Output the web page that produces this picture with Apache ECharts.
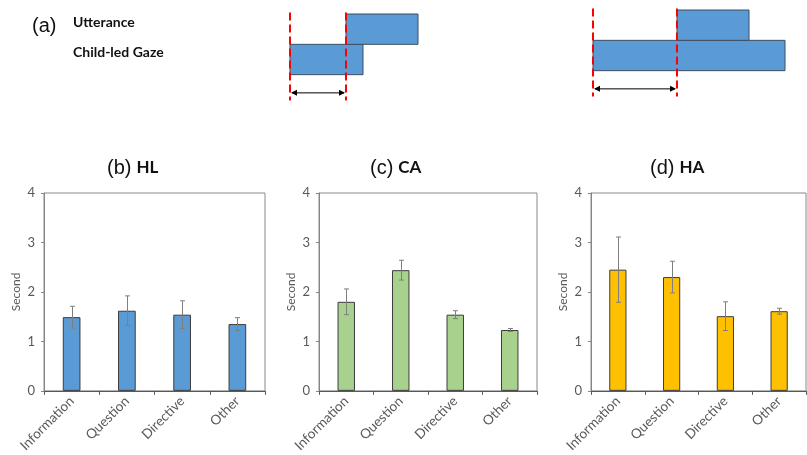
<!DOCTYPE html>
<html><head><meta charset="utf-8">
<script src="https://cdn.jsdelivr.net/npm/echarts@6/dist/echarts.min.js"></script>
<style>html,body{margin:0;padding:0;background:#fff}#c{width:807px;height:455px}</style>
</head><body><div id="c"></div>
<script>
// ---- data ----
const categories = ['Information', 'Question', 'Directive', 'Other'];
const yTickValues = [0, 1, 2, 3, 4];
const hlMean = [1.49, 1.62, 1.54, 1.35];
const hlErr  = [0.22, 0.30, 0.28, 0.13];
const caMean = [1.80, 2.44, 1.54, 1.23];
const caErr  = [0.26, 0.20, 0.08, 0.03];
const haMean = [2.45, 2.30, 1.51, 1.61];
const haErr  = [0.66, 0.32, 0.29, 0.06];
const panelLetters = ['(b)', '(c)', '(d)'];
const groupNames = ['HL', 'CA', 'HA'];
const rowLabels = ['Utterance', 'Child-led Gaze'];
// schematic (a): [start, end] intervals in schematic time units
const leftUtterance  = [5.6, 12.8];
const leftGaze       = [0, 7.3];
const rightUtterance = [8.4, 15.6];
const rightGaze      = [0, 19.2];

// ---- styling ----
const FONT = 'Lato';
const barColors = ['#5B9BD5', '#A9D18E', '#FFC000'];
const means = [hlMean, caMean, haMean];
const errs = [hlErr, caErr, haErr];
const grids = [
  {left: 44, top: 193, width: 221, height: 198},
  {left: 319, top: 193, width: 218, height: 198},
  {left: 591, top: 193, width: 215, height: 198},
  {left: 290, top: 14, width: 128, height: 91},
  {left: 593, top: 10, width: 192, height: 91}
];
const titleLefts = [102, 365, 645];

const xAxes = [], yAxes = [], series = [], titles = [];
for (let g = 0; g < 3; g++) {
  xAxes.push({
    type: 'category', gridIndex: g, data: categories,
    axisLine: {lineStyle: {color: '#595959', width: 1}},
    axisTick: {show: true, length: 4, lineStyle: {color: '#595959'}},
    axisLabel: {rotate: 45, color: '#595959', fontSize: 13.5, fontFamily: FONT, margin: 8}
  });
  yAxes.push({
    type: 'value', gridIndex: g, min: yTickValues[0], max: yTickValues[yTickValues.length - 1], interval: 1,
    axisLine: {show: true, lineStyle: {color: '#868686'}},
    axisTick: {show: true, length: 3, lineStyle: {color: '#868686'}},
    splitLine: {show: false},
    axisLabel: {color: '#595959', fontSize: 13, fontFamily: FONT, margin: 9},
    name: 'Second', nameLocation: 'middle', nameGap: 22,
    nameTextStyle: {color: '#595959', fontSize: 12, fontFamily: FONT}
  });
  series.push({
    type: 'bar', xAxisIndex: g, yAxisIndex: g, data: means[g], barWidth: '32%',
    itemStyle: {color: barColors[g], borderColor: '#3c3c3c', borderWidth: 1},
    silent: true, animation: false
  });
  series.push({
    type: 'custom', xAxisIndex: g, yAxisIndex: g, z: 5, animation: false, silent: true,
    data: categories.map((c, i) => [i, means[g][i], errs[g][i]]),
    renderItem: function (params, api) {
      const x = api.value(0), m = api.value(1), e = api.value(2);
      const t = api.coord([x, m + e]), b = api.coord([x, m - e]);
      const cx = Math.round(t[0]) + 0.5, w = 2.5;
      const st = {stroke: '#7f7f7f', lineWidth: 1};
      return {type: 'group', children: [
        {type: 'line', shape: {x1: cx, y1: t[1], x2: cx, y2: b[1]}, style: st},
        {type: 'line', shape: {x1: cx - w, y1: t[1], x2: cx + w, y2: t[1]}, style: st},
        {type: 'line', shape: {x1: cx - w, y1: b[1], x2: cx + w, y2: b[1]}, style: st}
      ]};
    }
  });
  titles.push({
    left: titleLefts[g], top: 153,
    text: '{p|' + panelLetters[g] + '} {g|' + groupNames[g] + '}',
    textStyle: {fontWeight: 'normal', rich: {
      p: {fontFamily: 'Liberation Sans', fontSize: 20, fontWeight: 'normal', color: '#111'},
      g: {fontFamily: FONT, fontWeight: 'bold', fontSize: 17, color: '#111'}
    }}
  });
}

// schematic grids
const schem = [
  {u: leftUtterance, gz: leftGaze},
  {u: rightUtterance, gz: rightGaze}
];
schem.forEach((s, k) => {
  const gi = 3 + k;
  xAxes.push({type: 'value', gridIndex: gi, min: 0, max: Math.max(s.u[1], s.gz[1]), show: false});
  yAxes.push({type: 'value', gridIndex: gi, min: 0, max: 3, inverse: true, show: false});
  series.push({
    type: 'custom', xAxisIndex: gi, yAxisIndex: gi, animation: false, silent: true, clip: false,
    data: [[s.u[0], s.u[1], s.gz[0], s.gz[1]]],
    renderItem: function (params, api) {
      const us = api.value(0), ue = api.value(1), gs = api.value(2), ge = api.value(3);
      const rect = (a, b, r) => {
        const p1 = api.coord([a, r]), p2 = api.coord([b, r + 1]);
        return {type: 'rect', shape: {x: p1[0], y: p1[1], width: p2[0] - p1[0], height: p2[1] - p1[1]},
          style: {fill: '#5B9BD5', stroke: '#3d4f63', lineWidth: 1}};
      };
      const dash = (x) => {
        const p1 = api.coord([x, -0.05]), p2 = api.coord([x, 2.85]);
        return {type: 'line', shape: {x1: p1[0], y1: p1[1], x2: p2[0], y2: p2[1]},
          style: {stroke: '#FF0000', lineWidth: 2, lineDash: [8, 4]}};
      };
      const a1 = api.coord([gs, 2.6]), a2 = api.coord([us, 2.6]);
      const ay = a1[1];
      return {type: 'group', children: [
        rect(gs, ge, 1), rect(us, ue, 0),
        dash(gs), dash(us),
        {type: 'line', shape: {x1: a1[0] + 2, y1: ay, x2: a2[0] - 2, y2: ay}, style: {stroke: '#000', lineWidth: 1}},
        {type: 'polygon', shape: {points: [[a1[0] + 1, ay], [a1[0] + 7, ay - 3], [a1[0] + 7, ay + 3]]}, style: {fill: '#000'}},
        {type: 'polygon', shape: {points: [[a2[0] - 1, ay], [a2[0] - 7, ay - 3], [a2[0] - 7, ay + 3]]}, style: {fill: '#000'}}
      ]};
    }
  });
});

titles.push({left: 27, top: 11, text: '(a)', textStyle: {fontFamily: 'Liberation Sans', fontSize: 20, fontWeight: 'normal', color: '#111'}});
titles.push({left: 68, top: 10, text: rowLabels[0], textStyle: {fontFamily: FONT, fontSize: 14, fontWeight: 'bold', color: '#111'}});
titles.push({left: 68, top: 40, text: rowLabels[1], textStyle: {fontFamily: FONT, fontSize: 14, fontWeight: 'bold', color: '#111'}});

const chart = echarts.init(document.getElementById('c'), null, {renderer: 'canvas'});
chart.setOption({
  backgroundColor: '#fff',
  animation: false,
  title: titles,
  grid: grids.map((g, i) => Object.assign({}, g, i < 3 ? {show: true, borderColor: '#8a8a8a', borderWidth: 1, backgroundColor: 'transparent'} : {show: false})),
  xAxis: xAxes,
  yAxis: yAxes,
  series: series
});
</script></body></html>
